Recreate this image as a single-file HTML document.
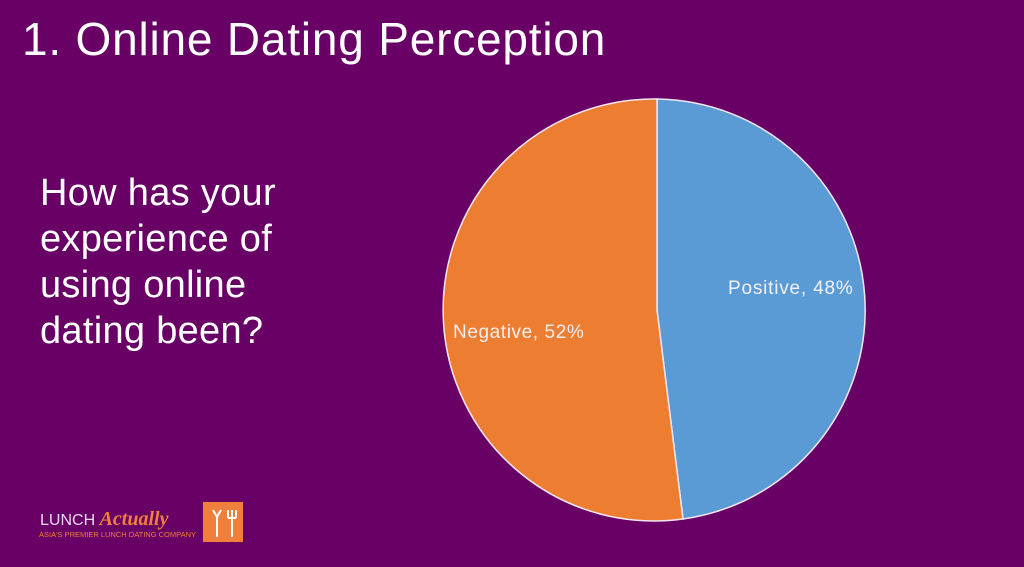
<!DOCTYPE html>
<html><head><meta charset="utf-8"><style>
body{margin:0;width:1024px;height:567px;background:#690066;overflow:hidden;font-family:"Liberation Sans",sans-serif;position:relative}
.t{position:absolute;color:#fff;white-space:nowrap}
</style></head><body>
<div class="t" style="left:22px;top:12px;font-size:46px;letter-spacing:0.8px">1. Online Dating Perception</div>
<div class="t" style="left:40px;top:170px;font-size:38px;line-height:46px;letter-spacing:0.3px">How has your<br>experience of<br>using online<br>dating been?</div>
<svg width="1024" height="567" style="position:absolute;left:0;top:0">
<path d="M657,310 L657,99 A211,211 0 0 1 683,519 Z" fill="#5b9bd5" stroke="#f3e6f0" stroke-width="1.5"/>
<path d="M657,310 L683,519 A211,211 0 1 1 657,99 Z" fill="#ed7d31" stroke="#f3e6f0" stroke-width="1.5"/>
<text x="728" y="294" font-size="19" letter-spacing="0.8" fill="#f4f0f4" font-family="Liberation Sans, sans-serif">Positive, 48%</text>
<text x="453" y="338" font-size="19" letter-spacing="0.6" fill="#f4f0f4" font-family="Liberation Sans, sans-serif">Negative, 52%</text>
<rect x="203" y="502" width="40" height="40" fill="#ef7f3a"/>
<path d="M213,510 l4,7 4,-7 M217,517 v20 M228,510 v8 M232,510 v8 M236,510 v8 M228,518 h8 M232,518 v19" stroke="#fff" stroke-width="2" fill="none"/>
</svg>
<div class="t" style="left:40px;top:508px;font-size:16px;color:#e8d8ea">LUNCH <span style="color:#ef7f3a;font-weight:bold;font-style:italic;font-family:'Liberation Serif',serif;font-size:20px">Actually</span></div>
<div class="t" style="left:39px;top:530px;font-size:7.5px;color:#ef7f3a">ASIA'S PREMIER LUNCH DATING COMPANY</div>
</body></html>
